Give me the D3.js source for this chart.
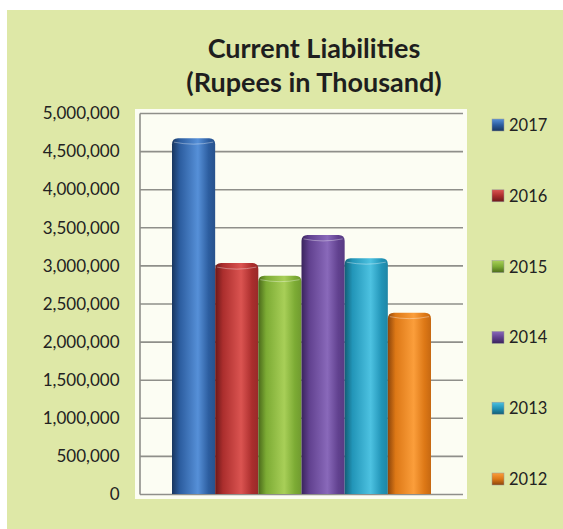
<!DOCTYPE html>
<html>
<head>
<meta charset="utf-8">
<script src="https://cdn.jsdelivr.net/npm/d3@7"></script>
<style>
  html, body { margin: 0; padding: 0; background: #ffffff; }
  svg { display: block; }
</style>
</head>
<body>
<svg id="chart" width="563" height="529"></svg>
<script>
// Current liabilities by year (Rupees in thousand)
const years = ["2017", "2016", "2015", "2014", "2013", "2012"];
const liabilities = [4670000, 3030000, 2865000, 3400000, 3095000, 2380000];
const tickValues = [0, 500000, 1000000, 1500000, 2000000, 2500000, 3000000, 3500000, 4000000, 4500000, 5000000];
const titleLines = ["Current Liabilities", "(Rupees in Thousand)"];

// colour ramps for each cylinder: [edge dark, mid, highlight, right edge]
const palette = {
  "2017": ["#19365f", "#2c5d9f", "#5690d8", "#28528c"],
  "2016": ["#6a1819", "#ab2e2d", "#db5451", "#982a29"],
  "2015": ["#4a691a", "#7cab34", "#a8cf58", "#709a2f"],
  "2014": ["#3a245d", "#61418f", "#8969ba", "#573b83"],
  "2013": ["#135f76", "#2295b8", "#4dc2e1", "#1e86a6"],
  "2012": ["#8c450b", "#dd7816", "#fb9e3b", "#c66811"]
};

const svg = d3.select("#chart");
const W = 563, H = 529;

// green backdrop panel
svg.append("rect").attr("x", 7).attr("y", 10).attr("width", W - 7).attr("height", H - 10)
  .attr("fill", "#dee8a7");

// plot frame
const plot = { left: 140, right: 463, top: 113, bottom: 494 };
svg.append("rect")
  .attr("x", plot.left - 5).attr("y", plot.top - 4)
  .attr("width", plot.right - plot.left + 9).attr("height", plot.bottom - plot.top + 9)
  .attr("fill", "#fcfdf3");

const y = d3.scaleLinear().domain([0, 5000000]).range([plot.bottom, plot.top]);
const x = d3.scaleBand().domain(years).range([172, 431]).padding(0);

// horizontal gridlines
svg.append("g").selectAll("line").data(tickValues.filter(d => d > 0)).join("line")
  .attr("x1", plot.left).attr("x2", plot.right)
  .attr("y1", d => y(d) + 0.5).attr("y2", d => y(d) + 0.5)
  .attr("stroke", "#8f8f8a").attr("stroke-width", 1.6);

// y axis with comma-formatted ticks
const fmt = d3.format(",");
const yAxis = d3.axisLeft(y).tickValues(tickValues).tickFormat(fmt).tickSize(0).tickPadding(0);
const axisG = svg.append("g").attr("transform", `translate(${plot.left - 0.5},0)`).call(yAxis);
axisG.select(".domain").attr("stroke", "#8f8f8a").attr("stroke-width", 1.6);
axisG.selectAll("text")
  .attr("x", -20)
  .attr("dy", "0.34em")
  .attr("font-family", "Lato, 'Open Sans', sans-serif")
  .attr("font-size", 17)
  .attr("fill", "#222");

// baseline
svg.append("line").attr("x1", plot.left).attr("x2", plot.right)
  .attr("y1", plot.bottom + 0.5).attr("y2", plot.bottom + 0.5)
  .attr("stroke", "#8f8f8a").attr("stroke-width", 1.6);

// gradients
const defs = svg.append("defs");
years.forEach(yr => {
  const c = palette[yr];
  const g = defs.append("linearGradient").attr("id", "grad" + yr)
    .attr("x1", "0%").attr("x2", "100%").attr("y1", "0%").attr("y2", "0%");
  [[0, c[0]], [0.18, c[1]], [0.6, c[2]], [0.85, c[1]], [1, c[3]]].forEach(([o, col]) =>
    g.append("stop").attr("offset", o).attr("stop-color", col));
  const s = defs.append("linearGradient").attr("id", "leg" + yr)
    .attr("x1", "0%").attr("x2", "0%").attr("y1", "0%").attr("y2", "100%");
  [[0, c[2]], [0.5, c[1]], [1, c[0]]].forEach(([o, col]) =>
    s.append("stop").attr("offset", o).attr("stop-color", col));
});

// cylinder-like bars with rounded tops
const r = 6;
const bars = svg.append("g").selectAll("g").data(years.map((yr, i) => ({ yr, v: liabilities[i] }))).join("g");
bars.append("path")
  .attr("d", d => {
    const x0 = x(d.yr), x1 = x0 + x.bandwidth(), y0 = y(d.v), yb = y(0);
    return `M${x0},${yb}V${y0 + r}Q${x0},${y0} ${x0 + r},${y0}H${x1 - r}Q${x1},${y0} ${x1},${y0 + r}V${yb}Z`;
  })
  .attr("fill", d => `url(#grad${d.yr})`);
// subtle cap rim
bars.append("path")
  .attr("d", d => {
    const x0 = x(d.yr) + 2, x1 = x(d.yr) + x.bandwidth() - 2, yc = y(d.v) + 4;
    return `M${x0},${yc}Q${(x0 + x1) / 2},${yc + 4} ${x1},${yc}`;
  })
  .attr("fill", "none").attr("stroke", "rgba(255,255,255,0.35)").attr("stroke-width", 1);

// title
svg.append("g").selectAll("text").data(titleLines).join("text")
  .attr("x", 314).attr("y", (d, i) => 58 + i * 34)
  .attr("text-anchor", "middle")
  .attr("font-family", "Lato, 'Open Sans', sans-serif")
  .attr("font-weight", "bold")
  .attr("font-size", 27)
  .attr("fill", "#1e1e1e")
  .text(d => d);

// legend
const ly = d3.scalePoint().domain(years).range([125, 479]);
const leg = svg.append("g").selectAll("g").data(years).join("g")
  .attr("transform", d => `translate(492,${ly(d)})`);
leg.append("rect").attr("x", 0).attr("y", -6).attr("width", 12).attr("height", 12)
  .attr("fill", d => `url(#leg${d})`).attr("stroke", "#999").attr("stroke-width", 0.5);
leg.append("text").attr("x", 17).attr("dy", "0.36em")
  .attr("font-family", "Lato, 'Open Sans', sans-serif")
  .attr("font-size", 16.5)
  .attr("fill", "#222")
  .text(d => d);
</script>
</body>
</html>
